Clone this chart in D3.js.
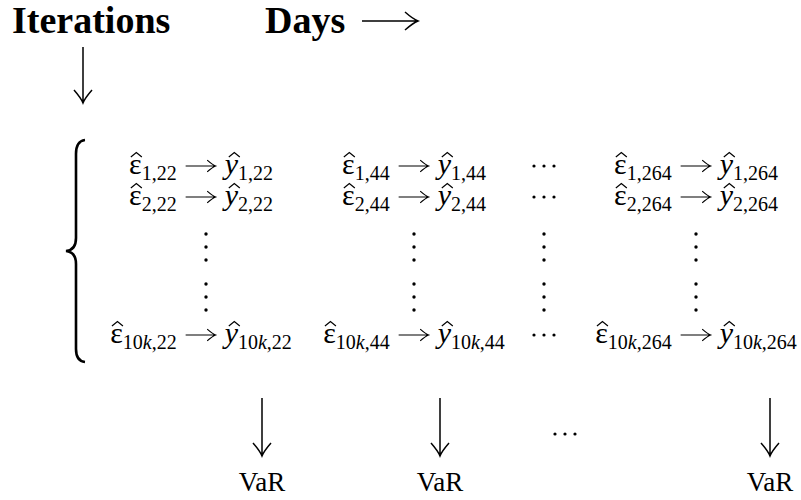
<!DOCTYPE html>
<html>
<head>
<meta charset="utf-8">
<script src="https://cdn.jsdelivr.net/npm/d3@7"></script>
<style>
  body { margin: 0; background: #fff; }
  text { font-family: "Liberation Serif", "Times New Roman", serif; fill: #000; }
</style>
</head>
<body>
<div id="chart"></div>
<script>
// rows = simulation iterations, columns = forecast days
const iterations = ["1", "2", "vdots", "vdots", "10k"];
const days = ["22", "44", "cdots", "264"];
const results = ["VaR", "VaR", "cdots", "VaR"];
const headers = ["Iterations", "Days"];

const width = 801, height = 500;
const fs = 30, subFs = 20;

const svg = d3.select("#chart").append("svg")
  .attr("width", width)
  .attr("height", height);

const x = d3.scaleOrdinal().domain(days).range([201, 414, 544, 696]);
const y = d3.scaleOrdinal().domain(d3.range(iterations.length)).range([174, 205, 247, 297, 343]);
const xOut = d3.scaleOrdinal().domain(d3.range(results.length)).range([262, 440, 565, 770]);

// LaTeX-like arrow: shaft + curved barbs
function arrowPath(x1, y1, x2, y2, s) {
  s = s || 1;
  const a = Math.atan2(y2 - y1, x2 - x1);
  const p = (dx, dy) => [x2 + s * (dx * Math.cos(a) - dy * Math.sin(a)), y2 + s * (dx * Math.sin(a) + dy * Math.cos(a))];
  const b1 = p(-13, -9), c1 = p(-5, -2), b2 = p(-13, 9), c2 = p(-5, 2);
  return `M${x1},${y1}L${x2},${y2}` +
    `M${b1}Q${c1} ${x2},${y2}Q${c2} ${b2}`;
}

function arrow(x1, y1, x2, y2, s, w) {
  svg.append("path")
    .attr("d", arrowPath(x1, y1, x2, y2, s))
    .attr("fill", "none")
    .attr("stroke", "#000")
    .attr("stroke-width", w || 1.5);
}

// headers
svg.append("text")
  .attr("x", 12).attr("y", 33)
  .style("font-size", "38px").style("font-weight", "bold")
  .text(headers[0]);
svg.append("text")
  .attr("x", 265).attr("y", 33)
  .style("font-size", "38px").style("font-weight", "bold")
  .text(headers[1]);
arrow(362, 21, 418, 21);
arrow(83, 47, 83, 103);

// big left brace
svg.append("path")
  .attr("d", "M85,140 Q76,141 76,154 L76,238 Q76,250 66,251 Q76,252 76,264 L76,349 Q76,361 85,362")
  .attr("fill", "none")
  .attr("stroke", "#000")
  .attr("stroke-width", 2.6);

function addSub(t, s) {
  // subscript with italic k
  const parts = s.split(/(k)/).filter(p => p.length);
  parts.forEach((p, i) => {
    t.append("tspan")
      .attr("dy", i === 0 ? 6 : null)
      .style("font-size", subFs + "px")
      .style("font-style", p === "k" ? "italic" : "normal")
      .text(p);
  });
}

function term(letter, sub, x0, y0, style) {
  const t = svg.append("text")
    .attr("x", x0).attr("y", y0)
    .style("font-size", fs + "px");
  t.append("tspan").style("font-style", style).text(letter);
  addSub(t, sub);
  return t;
}

function hat(t, y0, dx) {
  const b = t.node().getExtentOfChar(0);
  const hx = b.x + b.width / 2 + dx, hy = y0 - 17;
  svg.append("path")
    .attr("d", `M${hx - 5.5},${hy}L${hx},${hy - 4.5}L${hx + 5.5},${hy}`)
    .attr("fill", "none")
    .attr("stroke", "#000")
    .attr("stroke-width", 1.2);
}

function vdots(cx, cy) {
  [-13, 0, 13].forEach(d => {
    svg.append("circle").attr("cx", cx).attr("cy", cy + d).attr("r", 1.7).attr("fill", "#000");
  });
}

function cdots(cx, cy) {
  [-10, 0, 10].forEach(d => {
    svg.append("circle").attr("cx", cx + d).attr("cy", cy).attr("r", 1.6).attr("fill", "#000");
  });
}

const gap = 9, arrLen = 30;

iterations.forEach((it, r) => {
  days.forEach(day => {
    const cx = x(day), cy = y(r);
    if (it === "vdots") {
      vdots(day === "22" ? cx + 5 : cx, cy);
      return;
    }
    if (day === "cdots") {
      cdots(cx, cy - 8);
      return;
    }
    const sub = `${it},${day}`;
    const left = term("ε", sub, 0, cy, "normal");
    const right = term("y", sub, 0, cy, "italic");
    const wL = left.node().getComputedTextLength();
    const wR = right.node().getComputedTextLength();
    const x0 = cx - (wL + gap + arrLen + gap + wR) / 2;
    const ax = x0 + wL + gap;
    left.attr("x", x0);
    right.attr("x", ax + arrLen + gap);
    hat(left, cy, 1);
    hat(right, cy, 3);
    arrow(ax, cy - 8, ax + arrLen, cy - 8, 0.65, 1.2);
  });
});

// bottom VaR row
results.forEach((res, i) => {
  const cx = xOut(i);
  if (res === "cdots") {
    cdots(cx, 434);
    return;
  }
  arrow(cx, 398, cx, 456);
  svg.append("text")
    .attr("x", cx).attr("y", 491)
    .attr("text-anchor", "middle")
    .style("font-size", "27px")
    .text(res);
});
</script>
</body>
</html>
